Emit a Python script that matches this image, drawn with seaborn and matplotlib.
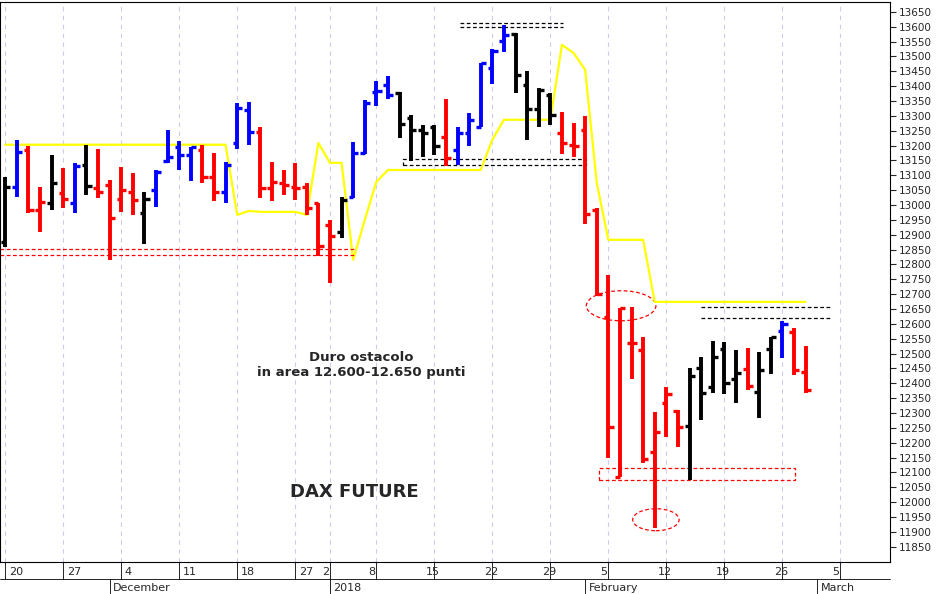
import numpy as np
import pandas as pd
import matplotlib
matplotlib.use("Agg")
import matplotlib.pyplot as plt
import seaborn as sns
from matplotlib.patches import Ellipse, Rectangle

# OHLC values, one bar per trading day (17 Nov 2017 - 1 Mar 2018)
highs = [13095, 13219, 13199, 13061, 13169, 13125, 13142, 13202, 13189, 13085,
         13128, 13108, 13044, 13118, 13253, 13216, 13196, 13202, 13176, 13145,
         13344, 13347, 13263, 13145, 13118, 13142, 13075, 13007, 12950, 13027,
         13213, 13354, 13418, 13435, 13381, 13303, 13270, 13270, 13357, 13263,
         13310, 13478, 13525, 13606, 13579, 13451, 13394, 13377, 13313, 13276,
         13300, 12990, 12765, 12654, 12657, 12556, 12304, 12388, 12311, 12452,
         12489, 12543, 12539, 12513, 12519, 12506, 12556, 12610, 12587, 12526]
lows = [12859, 13027, 12974, 12910, 12984, 12990, 12974, 13034, 13024, 12816,
        12977, 12967, 12869, 12994, 13142, 13118, 13081, 13075, 13014, 13007,
        13189, 13202, 13024, 13014, 13034, 13017, 12967, 12829, 12738, 12890,
        13024, 13172, 13334, 13357, 13226, 13149, 13162, 13169, 13132, 13135,
        13199, 13263, 13408, 13515, 13377, 13219, 13263, 13270, 13172, 13162,
        12937, 12694, 12149, 12085, 12415, 12132, 11914, 12220, 12186, 12075,
        12277, 12368, 12365, 12334, 12378, 12284, 12432, 12486, 12428, 12368]
opens = [12876, 13061, 13186, 12984, 13007, 13041, 13007, 13135, 13058, 13068,
         13021, 13044, 12974, 13051, 13149, 13196, 13169, 13186, 13095, 13044,
         13209, 13320, 13246, 13058, 13075, 13061, 13061, 13007, 12933, 12910,
         13027, 13176, 13381, 13404, 13377, 13293, 13253, 13263, 13229, 13186,
         13243, 13263, 13462, 13552, 13576, 13404, 13324, 13371, 13243, 13202,
         13253, 12984, 12624, 12085, 12536, 12513, 12169, 12334, 12308, 12257,
         12452, 12388, 12516, 12415, 12449, 12371, 12516, 12577, 12573, 12438]
closes = [13061, 13179, 12984, 13011, 13075, 13021, 13132, 13065, 13044, 12957,
          13051, 13017, 13021, 13112, 13162, 13169, 13196, 13095, 13044, 13135,
          13327, 13246, 13058, 13078, 13068, 13058, 12990, 12863, 12896, 13017,
          13176, 13344, 13384, 13371, 13273, 13253, 13243, 13199, 13159, 13243,
          13287, 13478, 13519, 13573, 13438, 13324, 13388, 13303, 13209, 13199,
          12970, 12701, 12254, 12654, 12536, 12146, 12237, 12365, 12254, 12425,
          12368, 12489, 12402, 12435, 12392, 12445, 12556, 12600, 12445, 12378]
bar_colors = list("kbrrkrbkrrrrkbbbbrrbbbrrrrrrrkbbbbkkkkrbbbbbkkkkrrrrrrrrrrrkkkkkrkkbrr")
# yellow stop line
stop_line = [13203] * 20 + [12967, 12980, 12977, 12977, 12977, 12977, 12967,
             13209, 13142, 13142, 12816, 12950, 13078, 13118, 13118, 13118, 13118,
             13118, 13118, 13118, 13118, 13118, 13220, 13287, 13287, 13287, 13287,
             13287, 13539, 13512, 13455, 13075, 12883, 12883, 12883, 12883,
             12674, 12674, 12674, 12674, 12674, 12674, 12674, 12674, 12674, 12674,
             12674, 12674, 12674, 12674]

day_pos = [1, 6, 11, 16, 21, 26, 28, 32, 37, 42, 47, 52, 57, 62, 67, 72]
day_labels = ["20", "27", "4", "11", "18", "27", "2", "8", "15", "22", "29",
              "5", "12", "19", "26", "5"]
grid_pos = [0, 5, 10, 15, 20, 25, 28, 32, 37, 42, 47, 52, 57, 62, 67, 72]
month_pos = [9.0, 28.0, 50.0, 70.0]
month_labels = ["December", "2018", "February", "March"]

cmap = {"k": "black", "b": "#0000ff", "r": "#ff0000"}
df = pd.DataFrame({"idx": np.arange(len(highs)), "stop": stop_line})

sns.set_style("white")
plt.rcParams["font.family"] = ["DejaVu Sans"]
fig = plt.figure(figsize=(9.41, 5.94), dpi=100)
ax = fig.add_axes([0.0, 0.054, 0.946, 0.943])
ax.set_xlim(-0.45, 76.3)
ax.set_ylim(11799, 13684)

for g in grid_pos:
    ax.axvline(g, color="#ccccee", lw=0.8, ls=(0, (4, 4)), zorder=0)

sns.lineplot(data=df, x="idx", y="stop", color="#ffff00", lw=1.6, ax=ax, zorder=2)

for i in range(len(highs)):
    c = cmap[bar_colors[i]]
    ax.vlines(i, lows[i], highs[i], color=c, lw=2.8, zorder=3)
    ax.hlines(opens[i], i - 0.4, i, color=c, lw=2.4, zorder=3)
    ax.hlines(closes[i], i, i + 0.45, color=c, lw=2.4, zorder=3)

dash = (0, (3, 2))
ax.hlines([13613, 13600], 39.2, 48.1, color="black", lw=0.9, ls=dash)
ax.add_patch(Rectangle((34.3, 13135), 15.8, 20, fill=False, ec="black", lw=0.9, ls=dash))
ax.hlines([12853, 12833], -0.45, 30.1, color="#ff0000", lw=0.9, ls=dash)
ax.hlines([12657, 12620], 60.0, 71.1, color="black", lw=0.9, ls=dash)
ax.add_patch(Rectangle((51.2, 12075), 16.9, 41, fill=False, ec="#ff0000", lw=0.9, ls=dash))
ax.add_patch(Ellipse((53.1, 12661), 6.0, 101, fill=False, ec="#ff0000", lw=0.9, ls=dash))
ax.add_patch(Ellipse((56.1, 11941), 4.0, 74, fill=False, ec="#ff0000", lw=0.9, ls=dash))

ax.text(30.7, 12462, "Duro ostacolo\nin area 12.600-12.650 punti", ha="center",
        va="center", fontsize=9.5, fontweight="bold")
ax.text(30.1, 12035, "DAX FUTURE", ha="center", va="center", fontsize=13,
        fontweight="bold")

ax.yaxis.tick_right()
ax.set_yticks(np.arange(11850, 13651, 50))
ax.tick_params(axis="y", labelsize=7.5, length=4, direction="out", right=True, pad=2)
ax.set_xticks([])
ax.set_xlabel("")
ax.set_ylabel("")
for s in ax.spines.values():
    s.set_color("black")
    s.set_linewidth(0.8)

# date rows below the plot
trans = ax.get_xaxis_transform()
for p, lab in zip(day_pos, day_labels):
    ax.text(p - 0.7, -0.018, lab, transform=trans, ha="left", va="center", fontsize=8)
for g in grid_pos:
    ax.plot([g, g], [0, -0.03], transform=trans, color="black", lw=0.6, clip_on=False)
for p, lab in zip(month_pos, month_labels):
    ax.text(p + 0.3, -0.047, lab, transform=trans, ha="left", va="center", fontsize=8)
    ax.plot([p, p], [-0.03, -0.06], transform=trans, color="black", lw=0.6, clip_on=False)
ax.plot([-0.45, 76.3], [-0.03, -0.03], transform=trans, color="black", lw=0.6, clip_on=False)

fig.savefig("out.png", dpi=100)
